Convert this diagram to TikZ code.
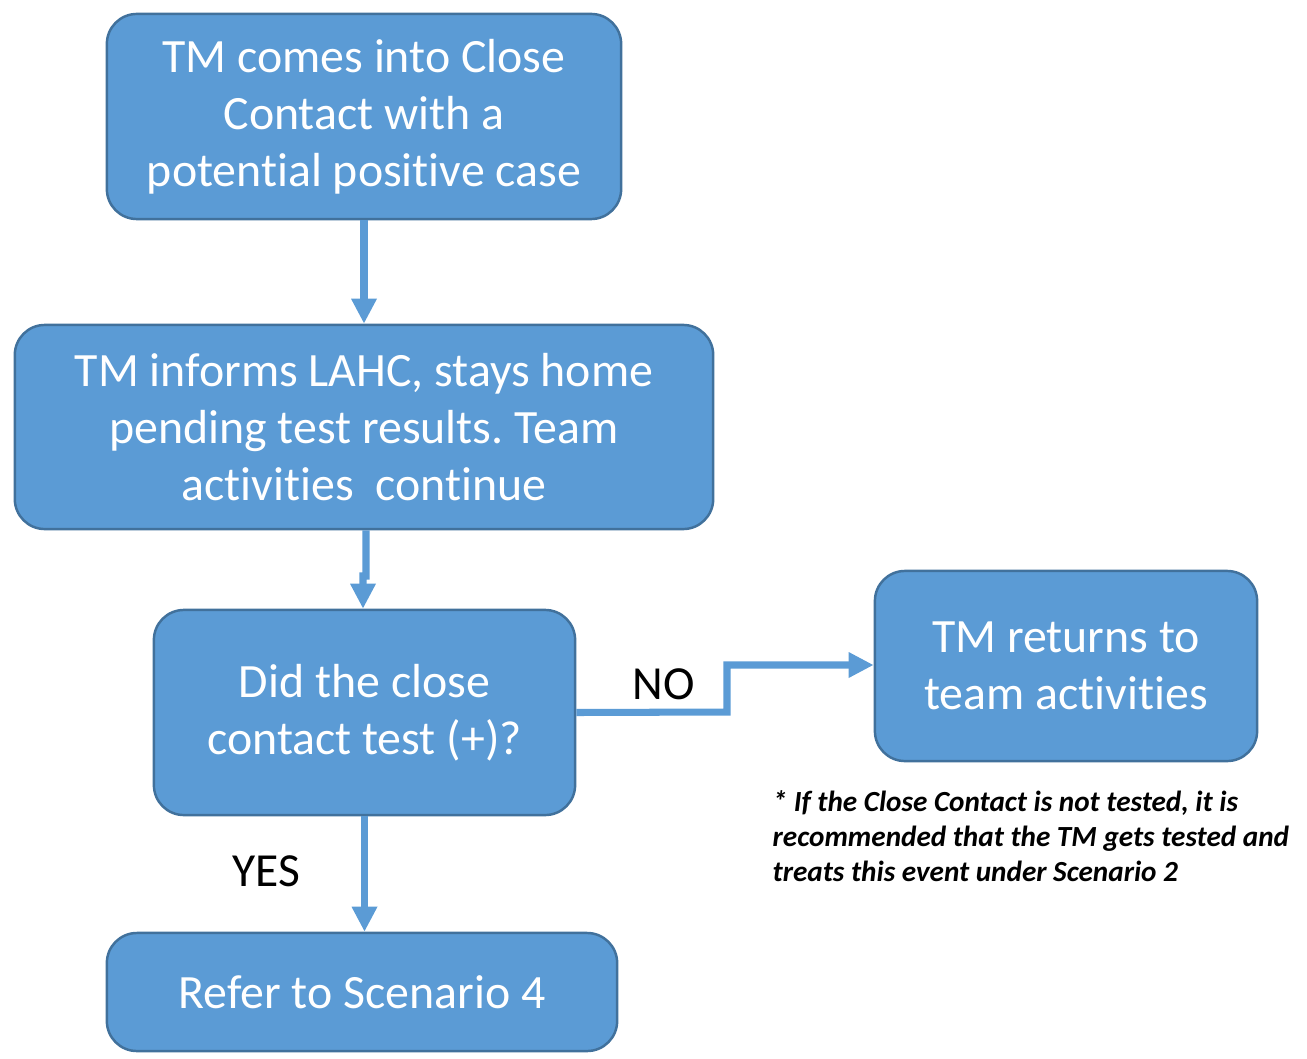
\documentclass[tikz,border=0pt]{standalone}
\usepackage{fontspec}
\setmainfont{Carlito}[RawFeature={-liga;-clig;-calt;-dlig;-rlig}]
\usepackage{xcolor}
\usetikzlibrary{positioning,calc,arrows.meta}
\definecolor{boxblue}{HTML}{5B9BD5}
\definecolor{boxedge}{HTML}{41719C}
\frenchspacing
\tikzset{
  flowbox/.style={rectangle, draw=boxedge, line width=0.7pt, fill=boxblue, rounded corners=0.3cm,
    align=center, text=white, font=\fontsize{13.6}{16.2}\selectfont, inner sep=0pt},
  flowarrow/.style={draw=boxblue, line width=2pt, -{Triangle[width=0.24cm,length=0.25cm]}},
  answer/.style={font=\fontsize{13.5}{16}\selectfont, text=black}
}

\begin{document}
\begin{tikzpicture}[x=0.01cm, y=-0.01cm]
    \useasboundingbox (0,0) rectangle (1307,1058);
    % boxes
    \node[flowbox, minimum width=5.14cm, minimum height=2.05cm] (contact) at (364,116.5) {TM comes into Close\\Contact with a\\potential positive case};
    \node[flowbox, minimum width=6.98cm, minimum height=2.04cm] (inform) at (364,427) {TM informs LAHC, stays home\\pending test results. Team\\activities\ \ continue};
    \node[flowbox, minimum width=4.21cm, minimum height=2.05cm] (test) at (364.5,712.5) {Did the close\\contact test (+)?};
    \node[flowbox, minimum width=3.82cm, minimum height=1.90cm] (returns) at (1066,666) {TM returns to\\team activities};
    \node[flowbox, minimum width=5.10cm, minimum height=1.18cm] (refer) at (362,992) {Refer to Scenario 4};
    % connectors
    \draw[flowarrow] (contact.south) -- (inform.north);
    \coordinate (jog) at (366,576);
    \draw[flowarrow] ([xshift=0.02cm]inform.south) -- (jog) -- ++(-3,0) -- ([xshift=-0.015cm]test.north);
    \coordinate (step1) at (727,712);
    \coordinate (step2) at (727,665);
    \draw[flowarrow] (test.east) -- (step1) -- (step2) -- (step2 -| returns.west);
    \draw[flowarrow] (test.south) -- (test.south |- refer.north);
    % labels
    \node[answer] (no) at (664,684) {NO};
    \node[answer] (yes) at (266,871) {YES};
    \node[anchor=north west, align=left, inner sep=0pt, font=\fontsize{8.3}{10}\selectfont\bfseries\itshape] (note) at (772,790)
      {* If the Close Contact is not tested, it is\\recommended that the TM gets tested and\\treats this event under Scenario 2};
\end{tikzpicture}
\end{document}
